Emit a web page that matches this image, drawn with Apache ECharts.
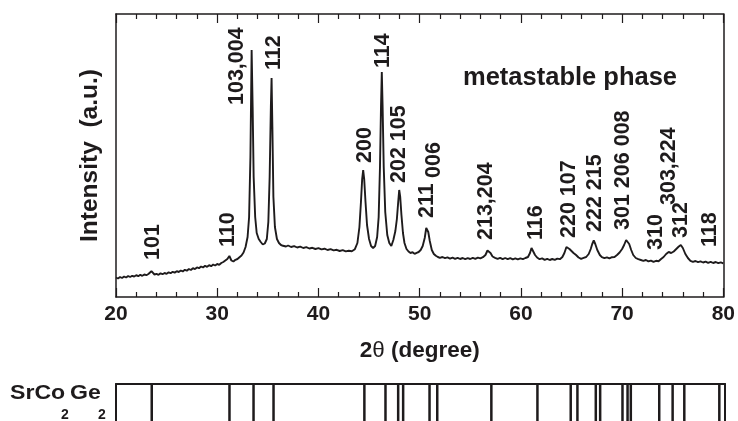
<!DOCTYPE html>
<html>
<head>
<meta charset="utf-8">
<script src="https://cdn.jsdelivr.net/npm/echarts@6/dist/echarts.min.js"></script>
<style>html,body{margin:0;padding:0;background:#fff;}#c{width:738px;height:421px;}</style>
</head>
<body>
<div id="c"></div>
<script>
// 2θ (degree) sample positions of the measured pattern
var twoTheta = [20.0,20.2,20.4,20.6,20.8,21.0,21.2,21.4,21.6,21.8,22.0,22.2,22.4,22.6,22.8,23.0,23.2,23.35,23.5,23.65,23.8,24.0,24.2,24.4,24.6,24.8,25.0,25.2,25.4,25.6,25.8,26.0,26.2,26.4,26.6,26.8,27.0,27.2,27.4,27.6,27.8,28.0,28.2,28.4,28.6,28.8,29.0,29.2,29.4,29.6,29.8,30.0,30.2,30.4,30.6,30.8,31.0,31.1,31.2,31.3,31.4,31.6,31.8,32.0,32.2,32.4,32.6,32.8,33.0,33.15,33.28,33.4,33.5,33.6,33.75,33.9,34.1,34.3,34.5,34.7,34.9,35.05,35.18,35.3,35.37,35.45,35.55,35.7,35.9,36.1,36.3,36.5,36.8,37.0,37.3,37.6,37.9,38.2,38.5,38.8,39.1,39.4,39.7,40.0,40.3,40.6,40.9,41.2,41.5,41.8,42.1,42.4,42.7,43.0,43.3,43.6,43.85,44.05,44.2,44.32,44.42,44.52,44.65,44.8,45.0,45.2,45.4,45.6,45.8,45.95,46.08,46.18,46.26,46.34,46.45,46.6,46.8,47.0,47.2,47.4,47.6,47.75,47.88,47.98,48.08,48.2,48.35,48.5,48.7,48.9,49.1,49.3,49.5,49.7,49.9,50.1,50.3,50.5,50.65,50.75,50.85,51.0,51.2,51.4,51.6,51.8,52.0,52.25,52.5,52.75,53.0,53.25,53.5,53.75,54.0,54.25,54.5,54.75,55.0,55.25,55.5,55.75,56.0,56.25,56.5,56.7,56.85,57.0,57.2,57.45,57.7,57.95,58.2,58.45,58.7,58.95,59.2,59.45,59.7,59.95,60.2,60.45,60.7,60.9,61.05,61.2,61.4,61.6,61.85,62.1,62.35,62.6,62.85,63.1,63.35,63.6,63.85,64.1,64.3,64.5,64.65,64.8,65.0,65.2,65.45,65.7,65.95,66.2,66.45,66.7,66.9,67.05,67.2,67.35,67.55,67.8,68.0,68.25,68.5,68.75,69.0,69.25,69.5,69.75,70.0,70.2,70.4,70.55,70.7,70.9,71.1,71.35,71.6,71.85,72.1,72.35,72.6,72.85,73.1,73.35,73.6,73.85,74.1,74.35,74.6,74.85,75.1,75.35,75.6,75.8,76.0,76.25,76.5,76.75,77.0,77.25,77.5,77.75,78.0,78.25,78.5,78.75,79.0,79.25,79.5,79.75,80.0];
// measured intensity (arbitrary counts)
var intensity = [195,185,200,190,205,195,210,200,212,205,218,208,222,212,225,218,230,245,258,240,225,232,222,236,228,240,232,246,238,252,244,258,250,265,256,272,263,280,270,288,279,296,288,305,296,312,302,318,308,324,315,330,322,340,350,365,380,395,410,395,365,355,372,380,398,415,445,500,600,800,1400,2470,1900,1200,800,640,580,550,525,535,580,750,1200,1900,2190,1700,1000,700,580,540,520,512,505,515,500,508,495,503,490,498,485,492,480,488,476,483,470,478,466,472,460,468,456,463,458,478,540,700,950,1180,1270,1180,950,720,580,510,490,510,600,800,1300,1900,2250,1900,1300,850,620,540,510,570,660,780,950,1070,1000,820,640,540,480,455,440,448,432,442,450,470,510,590,690,700,650,560,470,430,412,400,392,400,388,396,384,394,382,392,380,390,378,388,380,392,382,394,386,398,420,465,470,440,405,392,382,392,378,390,378,388,376,386,376,386,378,390,400,440,490,470,420,395,378,386,372,382,370,380,372,384,378,400,440,500,510,480,460,440,420,395,382,392,400,430,480,530,565,530,470,420,398,388,396,386,398,400,420,445,480,520,570,578,530,470,420,390,378,370,362,370,356,364,352,362,358,380,400,430,450,440,455,480,505,520,490,430,390,362,352,360,348,356,345,354,342,352,340,350,338,346,336];

// peak (hkl) labels: text, 2θ position, intensity where the text starts
var peakLabels = ['101','110','103,004','112','200','114','202 105','211','006','213,204','116','220 107','222 215','301 206 008','310','303,224','312','118'];
var labelTheta = [23.62,31.1,31.95,35.59,44.6,46.35,47.93,50.69,51.43,56.61,61.55,64.8,67.37,70.1,73.39,74.67,75.86,78.67];
var labelY = [370,500,1920,2270,1340,2290,1140,790,1190,570,570,590,650,670,470,920,590,500];

// SrCo2Ge2 reference stick positions (2θ)
var refTheta = [23.52,31.18,33.55,35.52,44.47,46.55,47.8,48.29,50.89,51.65,56.98,61.52,64.8,65.46,67.27,67.7,69.9,70.4,70.72,73.52,74.84,75.99,79.44];

var xTicks = {min: 20, max: 80, interval: 10};

var ink = '#1e1b1c';
var font = 'Liberation Sans, Arial, Helvetica, sans-serif';

var curve = twoTheta.map(function (t, i) { return [t, intensity[i]]; });
var labels = peakLabels.map(function (s, i) { return {name: s, value: [labelTheta[i], labelY[i]]}; });
var sticks = refTheta.map(function (t) { return [t, 1]; });

var chart = echarts.init(document.getElementById('c'), null, {renderer: 'canvas'});
var tickCommon = {
  axisLine: {show: true, onZero: false, lineStyle: {color: ink, width: 1.5}},
  axisTick: {show: true, inside: true, length: 9, lineStyle: {color: ink, width: 1.2}},
  minorTick: {show: true, splitNumber: 5, length: 5, lineStyle: {color: ink, width: 1.2}},
  splitLine: {show: false}
};
var plainLine = function (w) {
  return {axisLine: {show: true, onZero: false, lineStyle: {color: ink, width: w}}, axisTick: {show: false}, axisLabel: {show: false}, splitLine: {show: false}};
};
chart.setOption({
  animation: false,
  backgroundColor: '#fff',
  grid: [
    {left: 116, right: 14, top: 14, bottom: 124},
    {left: 116, right: 13, top: 384, bottom: -40}
  ],
  xAxis: [
    Object.assign({type: 'value', gridIndex: 0, position: 'bottom', min: xTicks.min, max: xTicks.max, interval: xTicks.interval,
      axisLabel: {show: true, margin: 7, color: ink, fontSize: 21, fontWeight: 'bold', fontFamily: font},
      name: '{b|2}{t|θ}{b| (degree)}', nameLocation: 'middle', nameGap: 42,
      nameTextStyle: {rich: {b: {fontSize: 22.5, fontWeight: 'bold', fontFamily: font, color: ink}, t: {fontSize: 22.5, fontWeight: 'normal', fontFamily: font, color: ink}}}
    }, tickCommon),
    Object.assign({type: 'value', gridIndex: 0, position: 'top', min: xTicks.min, max: xTicks.max, interval: xTicks.interval,
      axisLabel: {show: false}}, tickCommon),
    Object.assign({type: 'value', gridIndex: 1, position: 'top', min: xTicks.min, max: xTicks.max}, plainLine(2))
  ],
  yAxis: [
    {type: 'value', gridIndex: 0, position: 'left', min: 0, max: 2830,
      axisLine: {show: true, onZero: false, lineStyle: {color: ink, width: 1.5}}, axisTick: {show: false}, axisLabel: {show: false}, splitLine: {show: false},
      name: 'Intensity  (a.u.)', nameLocation: 'middle', nameGap: 13,
      nameTextStyle: {fontSize: 24.5, fontWeight: 'bold', fontFamily: font, color: ink}},
    Object.assign({type: 'value', gridIndex: 0, position: 'right', min: 0, max: 2830}, plainLine(1.5)),
    Object.assign({type: 'value', gridIndex: 1, position: 'left', min: 0, max: 1}, plainLine(2)),
    Object.assign({type: 'value', gridIndex: 1, position: 'right', min: 0, max: 1}, plainLine(2))
  ],
  series: [
    {type: 'line', xAxisIndex: 0, yAxisIndex: 0, data: curve, symbol: 'none', lineStyle: {color: ink, width: 1.9}, z: 3},
    {type: 'scatter', xAxisIndex: 0, yAxisIndex: 0, data: labels, symbolSize: 1, itemStyle: {color: 'rgba(0,0,0,0)', opacity: 1},
      label: {show: true, formatter: '{b}', rotate: 90, position: 'inside', align: 'left', verticalAlign: 'middle', opacity: 1,
        fontSize: 21.5, fontWeight: 'bold', fontFamily: font, color: ink}, z: 4},
    {type: 'bar', xAxisIndex: 2, yAxisIndex: 2, data: sticks, barWidth: 2.5, itemStyle: {color: ink}}
  ],
  graphic: [
    {type: 'text', left: 463, top: 65, style: {text: 'metastable phase', font: 'bold 25.5px ' + font, fill: ink}},
    {type: 'text', x: 10, y: 393, scaleX: 1.1, style: {text: 'SrCo', font: 'bold 21px ' + font, fill: ink, verticalAlign: 'middle'}},
    {type: 'text', x: 61, y: 415, style: {text: '2', font: 'bold 14px ' + font, fill: ink, verticalAlign: 'middle'}},
    {type: 'text', x: 70, y: 393, scaleX: 1.1, style: {text: 'Ge', font: 'bold 21px ' + font, fill: ink, verticalAlign: 'middle'}},
    {type: 'text', x: 98, y: 415, style: {text: '2', font: 'bold 14px ' + font, fill: ink, verticalAlign: 'middle'}}
  ]
});
</script>
</body>
</html>
